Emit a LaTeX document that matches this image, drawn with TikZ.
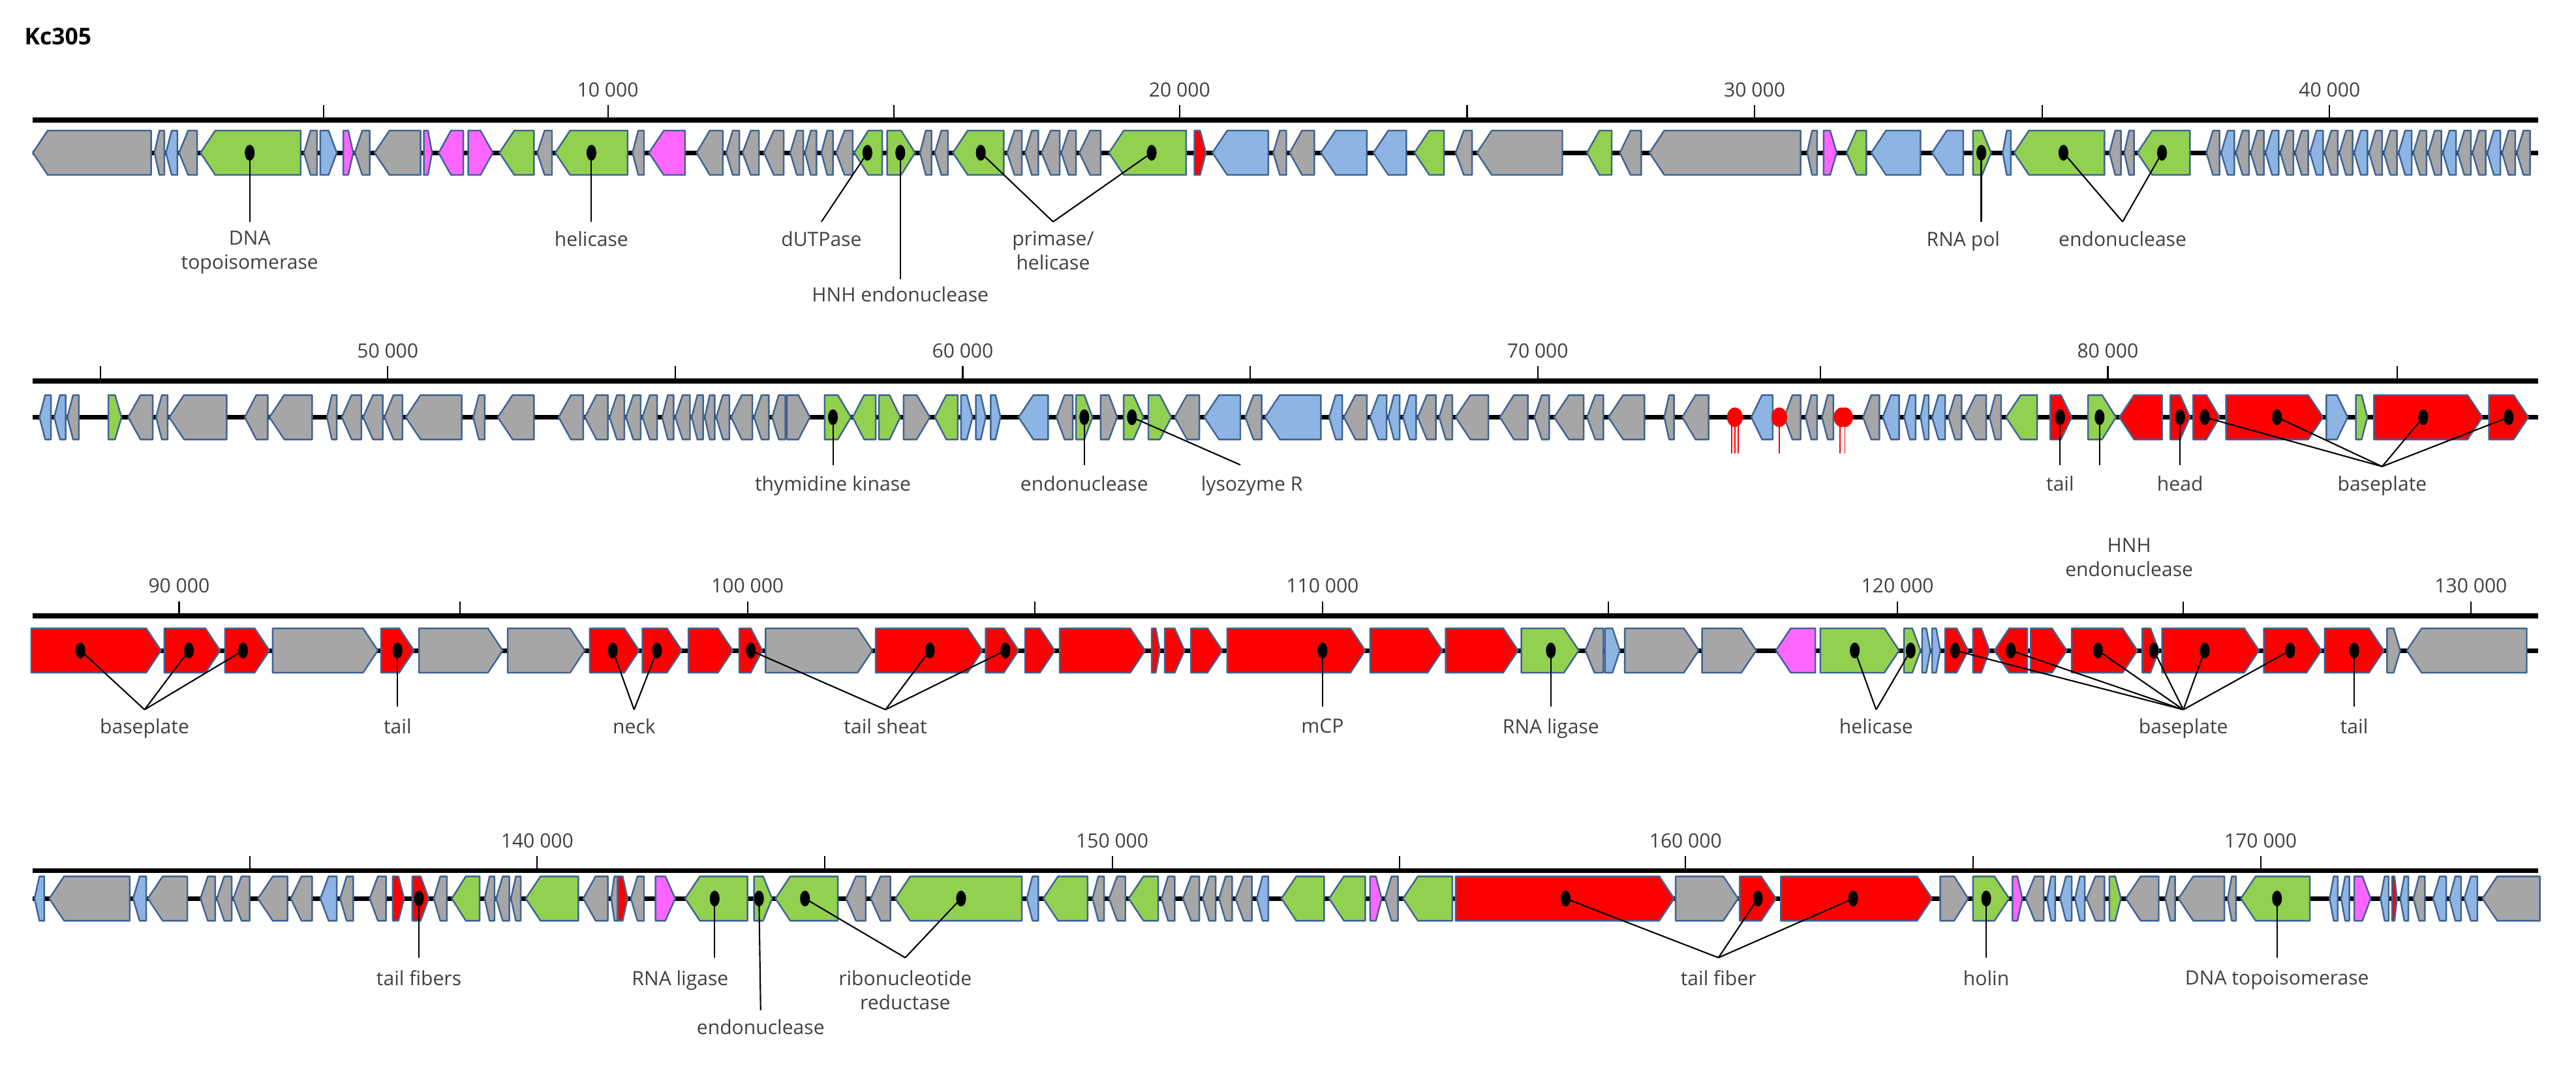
\documentclass[tikz,border=0pt]{standalone}
\usepackage{fontspec}
\setmainfont{Open Sans}
\definecolor{gy}{HTML}{A6A6A6}
\definecolor{gr}{HTML}{92D050}
\definecolor{bl}{HTML}{8DB4E2}
\definecolor{pk}{HTML}{FF66FF}
\definecolor{rd}{HTML}{FF0000}
\definecolor{outl}{HTML}{3E6494}
\definecolor{txt}{HTML}{404040}
\newcommand\gene[5]{%
  \pgfmathsetmacro\hh{min(9,0.5*(#2-#1))}%
  \ifnum#3=1
    \filldraw[genestyle,fill=#4] (#1,#5-13.5)--({#2-\hh},#5-13.5)--(#2,#5)--({#2-\hh},#5+13.5)--(#1,#5+13.5)--cycle;
  \else
    \filldraw[genestyle,fill=#4] (#2,#5-13.5)--({#1+\hh},#5-13.5)--(#1,#5)--({#1+\hh},#5+13.5)--(#2,#5+13.5)--cycle;
  \fi}
\begin{document}
\begin{tikzpicture}[x=0.025cm,y=-0.025cm,
  genestyle/.style={draw=outl,line width=0.7pt,line join=round},
  axisline/.style={line width=2.2pt},
  backbone/.style={line width=2pt},
  tick/.style={line width=0.6pt},
  ticklab/.style={font=\fontsize{8.5}{10}\selectfont,text=txt,anchor=south},
  lab/.style={font=\fontsize{8.5}{10.5}\selectfont,text=txt,anchor=north,align=center,inner sep=1pt},
  conn/.style={line width=0.6pt},
  dot/.style={fill=black}]
\useasboundingbox (0,0) rectangle (1568,650);
\node[anchor=west,font=\bfseries\fontsize{10}{12}\selectfont] (title) at (10,22) {Kc305};
% axes
\foreach \yy in {73,232,375,530} {\draw[axisline] (20,\yy)--(1545,\yy);}
\foreach \x in {197,370,544,718,893,1068,1243,1418} {\draw[tick] (\x,73)--(\x,64);}
\foreach \x/\t in {370/10 000,718/20 000,1068/30 000,1418/40 000} {\node[ticklab] at (\x,64) {\t};}
\foreach \x in {61,236,411,586,761,936,1108,1283,1459} {\draw[tick] (\x,232)--(\x,223);}
\foreach \x/\t in {236/50 000,586/60 000,936/70 000,1283/80 000} {\node[ticklab] at (\x,223) {\t};}
\foreach \x in {109,280,455,630,805,979,1155,1329,1504} {\draw[tick] (\x,375)--(\x,366);}
\foreach \x/\t in {109/90 000,455/100 000,805/110 000,1155/120 000,1504/130 000} {\node[ticklab] at (\x,366) {\t};}
\foreach \x in {152,327,502,677,852,1026,1201,1376} {\draw[tick] (\x,530)--(\x,521);}
\foreach \x/\t in {327/140 000,677/150 000,1026/160 000,1376/170 000} {\node[ticklab] at (\x,521) {\t};}
% backbones
\foreach \yy in {93,254,396,547} {\draw[backbone] (20,\yy)--(1545,\yy);}
% row 1
\foreach \a/\b/\d/\c in {20/92/0/gy,94/100/0/gy,101/108/0/bl,109/120/0/gy,122/183/0/gr,185/193/0/gy,195/205/1/bl,209/215/1/pk,216/225/0/gy,228/256/0/gy,258/263/1/pk,267/282/0/pk,285/300/1/pk,304/325/0/gr,327/336/0/gy,338/382/0/gr,385/392/0/gy,395/417/0/pk,424/440/0/gy,442/450/0/gy,452/462/0/gy,465/477/0/gy,481/489/0/gy,490/497/0/gy,500/507/0/gy,509/519/0/gy,520/537/0/gr,540/557/1/gr,560/567/0/gy,569/577/0/gy,580/611/0/gr,613/622/0/gy,624/632/0/gy,634/645/0/gy,646/655/0/gy,657/670/0/gy,675/722/0/gr,727/734/1/rd,738/772/0/bl,775/783/0/gy,785/800/0/gy,804/832/0/bl,836/856/0/bl,861/879/0/gr,886/896/0/gy,899/951/0/gy,966/981/0/gr,986/999/0/gy,1004/1096/0/gy,1100/1106/0/gy,1110/1118/1/pk,1124/1136/0/gr,1139/1169/0/bl,1176/1195/0/bl,1201/1212/1/gr,1219/1224/0/bl,1226/1281/0/gr,1284/1291/0/gy,1293/1299/0/gy,1301/1333/0/gr}
  {\gene{\a}{\b}{\d}{\c}{93}}
\foreach \i in {0,...,21} {
  \pgfmathsetmacro\xa{1343+9*\i}\pgfmathsetmacro\xb{\xa+8}
  \pgfmathparse{mod(\i,3)==1?"bl":"gy"}\edef\cc{\pgfmathresult}
  \gene{\xa}{\xb}{0}{\cc}{93}}
% row 2
\foreach \a/\b/\d/\c in {24/31/0/bl,33/40/0/bl,41/48/0/gy,66/74/1/gr,78/93/0/gy,95/102/0/gy,103/138/0/gy,149/163/0/gy,164/190/0/gy,199/205/0/gy,208/220/0/gy,221/233/0/gy,234/245/0/gy,247/281/0/gy,288/295/0/gy,303/325/0/gy,340/355/0/gy,356/370/0/gy,371/380/0/gy,381/390/0/gy,391/400/0/gy,403/410/0/gy,411/420/0/gy,421/428/0/gy,429/435/0/gy,436/444/0/gy,445/458/0/gy,459/468/0/gy,470/478/0/gy,479/493/1/gy,502/518/1/gr,519/533/0/gr,535/548/1/gr,550/566/1/gy,569/583/0/gr,585/592/1/bl,594/600/1/bl,603/609/1/bl,620/638/0/bl,643/653/0/gy,655/665/1/gr,670/680/1/gy,684/696/1/gr,699/713/1/gr,715/730/0/gy,733/755/0/bl,758/768/0/gy,770/804/0/bl,809/817/0/bl,818/832/0/gy,834/844/0/bl,845/852/0/bl,854/862/0/bl,863/874/0/gy,876/884/0/gy,886/906/0/gy,913/930/0/gy,934/943/0/gy,946/964/0/gy,966/976/0/gy,979/1001/0/gy,1013/1019/0/gy,1024/1040/0/gy,1066/1079/0/bl,1086/1096/0/gy,1099/1106/0/gy,1109/1116/0/gy,1134/1144/0/gy,1146/1156/0/bl,1159/1166/0/bl,1169/1174/0/bl,1176/1184/0/bl,1186/1194/0/gy,1196/1209/0/gy,1211/1218/0/gy,1221/1240/0/gr,1248/1261/1/rd,1271/1288/1/gr,1290/1316/0/rd,1321/1333/1/rd,1335/1351/1/rd,1355/1414/1/rd,1416/1429/1/bl,1434/1441/1/gr,1445/1511/1/rd,1515/1539/1/rd}
  {\gene{\a}{\b}{\d}{\c}{254}}
\foreach \x in {1054,1056,1058,1083,1120,1123} {\draw[rd,line width=0.5pt] (\x,254)--(\x,276);}
\foreach \x in {1056,1083,1121,1123} {\fill[rd] (\x,254) ellipse [x radius=0.12cm,y radius=0.15cm];}
% row 3
\foreach \a/\b/\d/\c in {19/98/1/rd,100/134/1/rd,137/164/1/rd,166/230/1/gy,232/252/1/rd,255/306/1/gy,309/356/1/gy,359/389/1/rd,391/415/1/rd,419/446/1/rd,450/464/1/rd,466/531/1/gy,533/598/1/rd,600/620/1/rd,624/642/1/rd,645/697/1/rd,701/706/1/rd,709/721/1/rd,725/744/1/rd,747/831/1/rd,834/878/1/rd,880/924/1/rd,926/961/1/gr,965/976/0/gy,977/986/1/bl,989/1034/1/gy,1036/1069/1/gy,1081/1105/0/pk,1108/1156/1/gr,1159/1169/1/gr,1170/1175/1/bl,1176/1181/1/bl,1184/1198/1/rd,1201/1211/1/rd,1214/1234/0/rd,1236/1258/1/rd,1261/1301/1/rd,1304/1314/1/rd,1316/1375/1/rd,1378/1413/1/rd,1415/1451/1/rd,1453/1461/1/gy,1465/1538/0/gy}
  {\gene{\a}{\b}{\d}{\c}{396}}
% row 4
\foreach \a/\b/\d/\c in {21/27/0/bl,30/79/0/gy,81/89/0/bl,90/114/0/gy,122/131/0/gy,132/141/0/gy,142/152/0/gy,157/175/0/gy,177/190/0/gy,195/205/0/bl,207/215/0/gy,225/235/0/gy,239/246/1/rd,251/261/1/rd,264/272/0/gy,275/292/0/gr,295/301/0/gy,302/310/0/gy,311/317/0/gy,320/352/0/gr,355/370/0/gy,372/376/0/gy,376/382/1/rd,384/392/0/gy,399/411/1/pk,417/455/0/gr,459/470/1/gr,472/510/0/gr,515/527/0/gy,530/542/0/gy,545/622/0/gr,625/632/0/bl,635/662/0/gr,665/672/0/gy,675/685/0/gy,687/705/0/gr,707/715/0/gy,720/730/0/gy,732/740/0/gy,742/750/0/gy,752/762/0/gy,765/772/0/bl,780/806/0/gr,809/831/0/gr,834/841/1/pk,843/851/0/gy,854/884/0/gr,886/1019/1/rd,1020/1058/1/gy,1059/1081/1/rd,1084/1176/1/rd,1181/1198/1/gy,1201/1223/1/gr,1225/1231/1/pk,1233/1244/0/gy,1246/1251/0/bl,1254/1261/0/bl,1263/1269/0/bl,1270/1281/0/gy,1284/1291/1/gr,1294/1314/0/gy,1318/1324/0/gy,1326/1354/0/gy,1356/1361/0/gy,1364/1406/0/gr,1418/1423/0/bl,1425/1430/0/bl,1433/1443/1/pk,1449/1454/0/bl,1456/1459/1/rd,1461/1466/0/bl,1469/1476/0/gy,1481/1489/0/bl,1491/1498/0/bl,1500/1508/0/bl,1511/1546/0/gy}
  {\gene{\a}{\b}{\d}{\c}{547}}
\newcommand\ann[4]{\fill[dot] (#1,#2) ellipse [x radius=0.075cm,y radius=0.12cm]; \draw[conn] (#1,#2)--(#3,#4);}
% row 1
\ann{152}{93}{152}{135}\ann{360}{93}{360}{135}\ann{528}{93}{500}{135}\ann{548}{93}{548}{170}
\ann{597}{93}{641}{135}\ann{701}{93}{641}{135}\ann{1206}{93}{1206}{135}\ann{1256}{93}{1292}{135}\ann{1316}{93}{1292}{135}
\node[lab] (l1) at (152,139) {DNA\\topoisomerase};
\node[lab] (l2) at (360,139) {helicase};
\node[lab] (l3) at (500,139) {dUTPase};
\node[lab] (l4) at (548,173) {HNH endonuclease};
\node[lab] (l5) at (641,139) {primase/\\helicase};
\node[lab] (l6) at (1195,139) {RNA pol};
\node[lab] (l7) at (1292,139) {endonuclease};
% row 2
\ann{507}{254}{507}{283}\ann{660}{254}{660}{283}\ann{689}{254}{755}{283}\ann{1254}{254}{1254}{283}\ann{1278}{254}{1278}{283}\ann{1327}{254}{1327}{283}
\ann{1342}{254}{1450}{284}\ann{1386}{254}{1450}{284}\ann{1475}{254}{1450}{284}\ann{1527}{254}{1450}{284}
\node[lab] (m1) at (507,288) {thymidine kinase};
\node[lab] (m2) at (660,288) {endonuclease};
\node[lab] (m3) at (762,288) {lysozyme R};
\node[lab] (m4) at (1254,288) {tail};
\node[lab] (m5) at (1327,288) {head};
\node[lab] (m6) at (1450,288) {baseplate};
% row 3
\ann{49}{396}{88}{432}\ann{115}{396}{88}{432}\ann{148}{396}{88}{432}\ann{242}{396}{242}{430}
\ann{373}{396}{386}{432}\ann{400}{396}{386}{432}\ann{457}{396}{539}{432}\ann{566}{396}{539}{432}\ann{612}{396}{539}{432}
\ann{805}{396}{805}{430}\ann{944}{396}{944}{430}\ann{1129}{396}{1142}{432}\ann{1163}{396}{1142}{432}
\ann{1190}{396}{1329}{432}\ann{1224}{396}{1329}{432}\ann{1277}{396}{1329}{432}\ann{1311}{396}{1329}{432}\ann{1342}{396}{1329}{432}\ann{1394}{396}{1329}{432}\ann{1433}{396}{1433}{430}
\node[lab] (n1) at (88,436) {baseplate};
\node[lab] (n2) at (242,436) {tail};
\node[lab] (n3) at (386,436) {neck};
\node[lab] (n4) at (539,436) {tail sheat};
\node[lab] (n5) at (805,436) {mCP};
\node[lab] (n6) at (944,436) {RNA ligase};
\node[lab] (n7) at (1142,436) {helicase};
\node[lab] (n8) at (1329,436) {baseplate};
\node[lab] (n9) at (1433,436) {tail};
\node[lab] (n10) at (1296,326) {HNH\\endonuclease};
% row 4
\ann{255}{547}{255}{583}\ann{435}{547}{435}{583}\ann{462}{547}{463}{615}\ann{490}{547}{551}{583}\ann{585}{547}{551}{583}
\ann{953}{547}{1046}{583}\ann{1070}{547}{1046}{583}\ann{1128}{547}{1046}{583}\ann{1209}{547}{1209}{583}\ann{1386}{547}{1386}{583}
\node[lab] (p1) at (255,589) {tail fibers};
\node[lab] (p2) at (414,589) {RNA ligase};
\node[lab] (p3) at (463,619) {endonuclease};
\node[lab] (p4) at (551,589) {ribonucleotide\\reductase};
\node[lab] (p5) at (1046,589) {tail fiber};
\node[lab] (p6) at (1209,589) {holin};
\node[lab] (p7) at (1386,589) {DNA topoisomerase};
\end{tikzpicture}
\end{document}
